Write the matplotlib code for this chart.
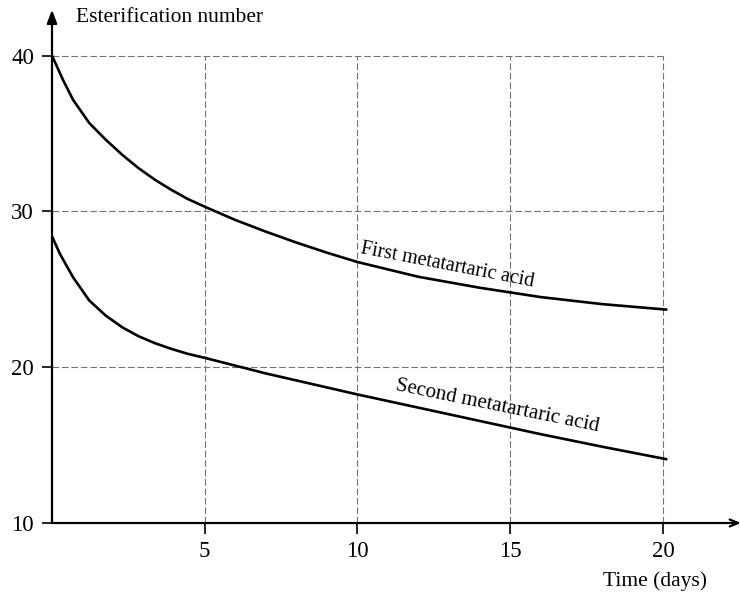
import matplotlib.pyplot as plt

# values
first_x = [0, 0.36, 0.69, 1.22, 1.76, 2.3, 2.83, 3.37, 3.9, 4.44, 5, 6, 7, 8, 9, 10, 12, 14, 16, 18, 20.1]
first_y = [40, 38.44, 37.16, 35.67, 34.6, 33.63, 32.78, 32.03, 31.39, 30.8, 30.3, 29.45, 28.7, 28.0, 27.35,
           26.75, 25.8, 25.1, 24.5, 24.05, 23.7]
second_x = [0, 0.26, 0.69, 1.22, 1.76, 2.3, 2.83, 3.37, 3.9, 4.44, 5, 6, 7, 8, 9, 10, 12, 14, 16, 18, 20.1]
second_y = [28.4, 27.27, 25.77, 24.28, 23.31, 22.56, 21.99, 21.54, 21.18, 20.86, 20.6, 20.1, 19.6, 19.15,
            18.7, 18.25, 17.4, 16.55, 15.7, 14.9, 14.1]
xticks = [5, 10, 15, 20]
yticks = [10, 20, 30, 40]

plt.rcParams['font.family'] = ['Liberation Serif', 'DejaVu Serif']

fig = plt.figure(figsize=(7.4, 5.93), dpi=100)
W, H = 740.0, 593.0
x0, x1 = 0, 22.55
y0, y1 = 10, 42.95
px_x = 30.55
px_y = 15.58
ax = fig.add_axes([52 / W, (H - 523) / H, (x1 - x0) * px_x / W, (y1 - y0) * px_y / H])
ax.set_xlim(x0, x1)
ax.set_ylim(y0, y1)

for s in ax.spines.values():
    s.set_visible(False)

# grid (dashed, only inside 0..20 / 10..40)
grid_kw = dict(color='0.45', linewidth=0.8, linestyle=(0, (6, 2.5)), zorder=1)
ax.vlines(xticks, 10, 40, **grid_kw)
ax.hlines(yticks[1:], 0, 20, **grid_kw)

# curves
ax.plot(first_x, first_y, color='black', linewidth=1.9, zorder=3)
ax.plot(second_x, second_y, color='black', linewidth=1.9, zorder=3)

# axes with arrows
ax.annotate('', xy=(0, y1), xytext=(0, 10), annotation_clip=False,
            arrowprops=dict(arrowstyle='-|>,head_length=0.8,head_width=0.3', color='black', lw=1.6,
                            shrinkA=0, shrinkB=0))
ax.annotate('', xy=(x1, 10), xytext=(0, 10), annotation_clip=False,
            arrowprops=dict(arrowstyle='->,head_length=0.6,head_width=0.25', color='black', lw=1.6,
                            shrinkA=0, shrinkB=0))

ax.set_xticks(xticks)
ax.set_yticks(yticks)
ax.tick_params(axis='x', direction='out', length=8, width=1.2, labelsize=16.5, pad=5)
ax.tick_params(axis='y', direction='out', length=7, width=1.2, labelsize=16.5, pad=6)

# curve labels
ax.text(12.93, 26.55, 'First metatartaric acid', fontsize=14.5, rotation=-11,
        ha='center', va='center', rotation_mode='anchor')
ax.text(14.57, 17.5, 'Second metatartaric acid', fontsize=15, rotation=-11.5,
        ha='center', va='center', rotation_mode='anchor')

fig.text(76 / W, 1 - 18 / H, 'Esterification number', fontsize=15.5, ha='left', va='center')
fig.text(707 / W, 1 - 581 / H, 'Time (days)', fontsize=15.5, ha='right', va='center')

plt.savefig('out.png', dpi=100)
